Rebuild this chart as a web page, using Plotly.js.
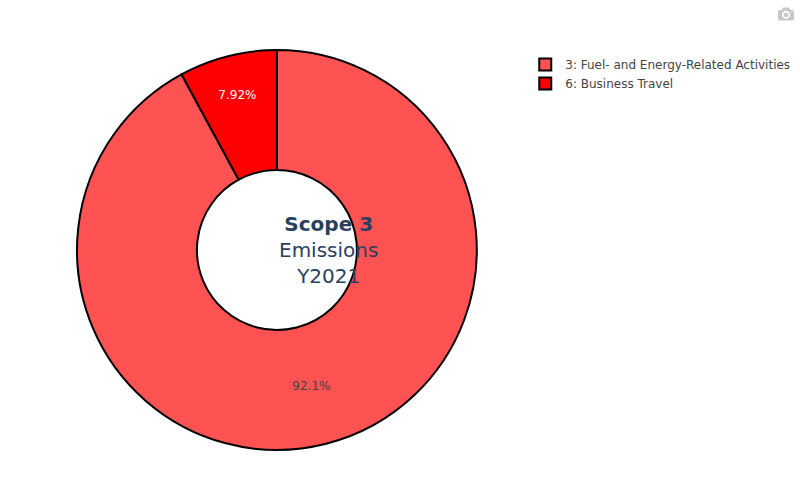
<!DOCTYPE html>
<html><head><script src="https://cdn.plot.ly/plotly-3.0.1.min.js"></script></head>
<body style="margin:0">
<div id="chart" style="width:800px;height:500px"></div>
<script>
const categories = ['3: Fuel- and Energy-Related Activities', '6: Business Travel'];
const values = [92.08, 7.92];
const colors = ['#ff5252', '#ff0000'];

const trace = {
  type: 'pie',
  labels: categories,
  values: values,
  hole: 0.4,
  direction: 'clockwise',
  sort: false,
  domain: { x: [0, 0.553], y: [0, 1] },
  marker: { colors: colors, line: { color: '#000000', width: 2 } },
  textinfo: 'percent',
  insidetextfont: { color: ['#444444', '#ffffff'] }
};

const layout = {
  width: 800,
  height: 500,
  margin: { t: 50, b: 50, l: 77, r: 0 },
  font: { family: '"DejaVu Sans", Verdana, sans-serif', size: 12 },
  legend: { x: 0.62, y: 1, xanchor: 'left', yanchor: 'top' },
  annotations: [{
    text: '<b>Scope 3</b><br>Emissions<br>Y2021',
    showarrow: false,
    x: 0.2765, y: 0.5, xref: 'paper', yref: 'paper',
    font: { size: 20, color: '#2a3f5f' }
  }]
};

Plotly.newPlot('chart', [trace], layout, { displaylogo: false });
</script>
</body></html>
